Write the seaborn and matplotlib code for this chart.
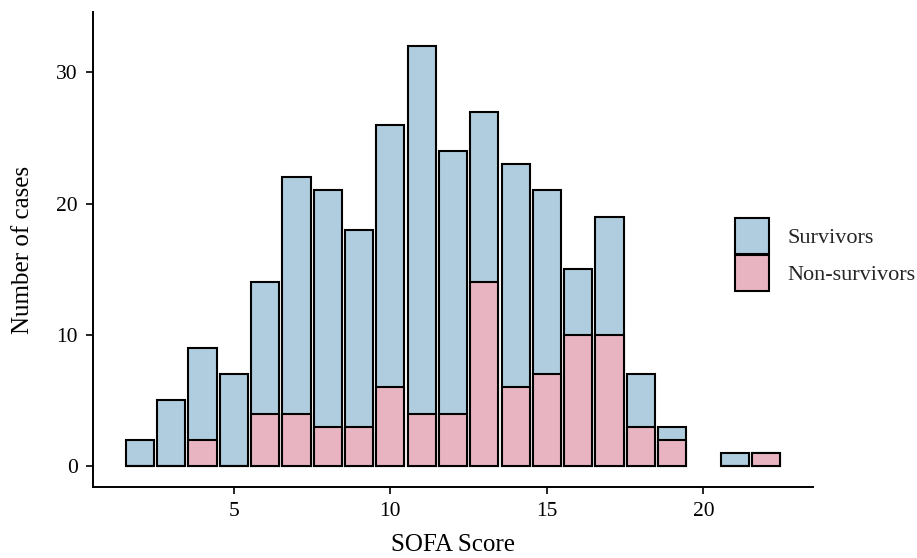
import matplotlib
matplotlib.use("Agg")
import matplotlib.pyplot as plt
from matplotlib.patches import Patch
import pandas as pd
import seaborn as sns

# SOFA score bins (20 has no cases)
scores = [2, 3, 4, 5, 6, 7, 8, 9, 10, 11, 12, 13, 14, 15, 16, 17, 18, 19, 21, 22]
survivors = [2, 5, 7, 7, 10, 18, 18, 15, 20, 28, 20, 13, 17, 14, 5, 9, 4, 1, 1, 0]
non_survivors = [0, 0, 2, 0, 4, 4, 3, 3, 6, 4, 4, 14, 6, 7, 10, 10, 3, 2, 0, 1]

blue = "#AFCDDF"
pink = "#E8B4C1"

df = pd.DataFrame({"score": scores, "survivors": survivors, "non_survivors": non_survivors})
df["total"] = df["survivors"] + df["non_survivors"]

sns.set_theme(style="ticks")
plt.rcParams["font.family"] = ["Liberation Serif", "DejaVu Serif"]

fig = plt.figure(figsize=(9.17, 5.58), dpi=100)
ax = fig.add_axes([93 / 917, 1 - 487 / 558, (813 - 93) / 917, (487 - 12) / 558])

sns.barplot(data=df, x="score", y="total", native_scale=True, width=0.9,
            color=blue, saturation=1, edgecolor="black", linewidth=1.5, ax=ax)
sns.barplot(data=df, x="score", y="non_survivors", native_scale=True, width=0.9,
            color=pink, saturation=1, edgecolor="black", linewidth=1.5, ax=ax)

ax.set_xlim(0.5, 23.5)
ax.set_ylim(-1.6, 34.6)
ax.set_xticks([5, 10, 15, 20])
ax.set_yticks([0, 10, 20, 30])
ax.tick_params(labelsize=15.5, length=5, width=1.2, pad=6, color="black", labelcolor="black")
for side in ["left", "bottom"]:
    ax.spines[side].set_linewidth(1.4)
    ax.spines[side].set_color("black")
sns.despine(ax=ax)

ax.set_xlabel("SOFA Score", fontsize=18, color="black", labelpad=9)
ax.set_ylabel("Number of cases", fontsize=18, color="black", labelpad=16)

handles = [Patch(facecolor=blue, edgecolor="black", linewidth=1.5),
           Patch(facecolor=pink, edgecolor="black", linewidth=1.5)]
fig.legend(handles, ["Survivors", "Non-survivors"], loc="upper left",
           bbox_to_anchor=(735 / 917, 1 - 218 / 558), frameon=False,
           fontsize=16, handlelength=1.55, handleheight=2.1, labelspacing=0.05,
           handletextpad=0.8, borderpad=0, borderaxespad=0)

fig.savefig("out.png", dpi=100)
plt.close(fig)
